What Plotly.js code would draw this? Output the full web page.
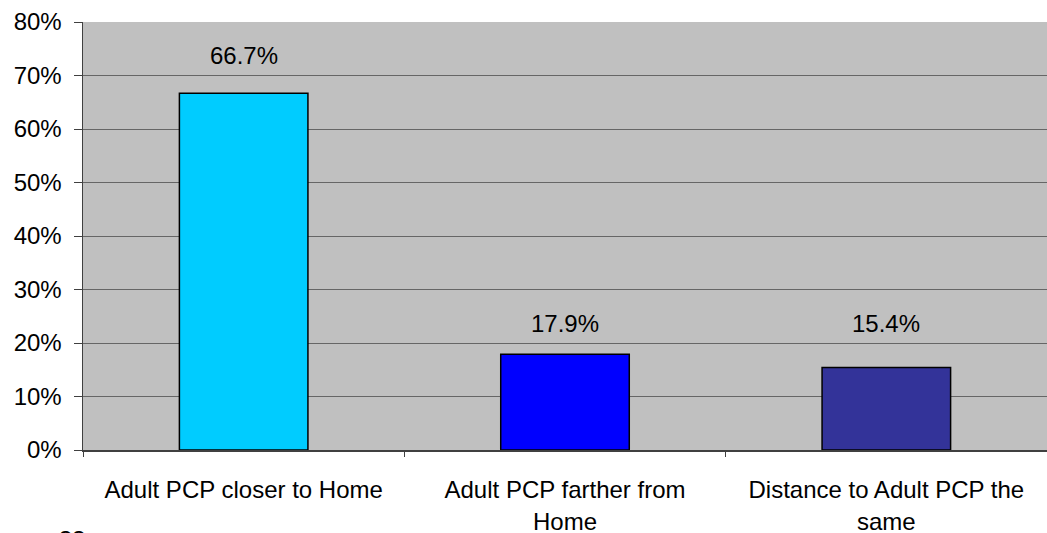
<!DOCTYPE html>
<html>
<head>
<meta charset="utf-8">
<script src="https://cdn.plot.ly/plotly-3.0.1.min.js"></script>
<style>html,body{margin:0;padding:0;background:#fff;}#chart{width:1047px;height:533px;}</style>
</head>
<body>
<div id="chart"></div>
<script>
const categories = ["Adult PCP closer to Home", "Adult PCP farther from<br>Home", "Distance to Adult PCP the<br>same"];
const values = [66.7, 17.9, 15.4];
const valueLabels = ["66.7%", "17.9%", "15.4%"];
const barColors = ["#00CCFF", "#0000FF", "#333399"];
const yTickVals = [0, 10, 20, 30, 40, 50, 60, 70, 80];
const yTickText = ["0%", "10%", "20%", "30%", "40%", "50%", "60%", "70%", "80%"];
const footerText = "33";

const labelShifts = [38, 31, 44];
const font = {family: "Liberation Sans, Arial, sans-serif", size: 24, color: "#000"};

const trace = {
  type: "bar",
  x: categories,
  y: values,
  width: 0.4,
  marker: {color: barColors, line: {color: "#000", width: 1.5}},
  hoverinfo: "none"
};

const annotations = values.map((v, i) => ({
  x: categories[i], y: v, xref: "x", yref: "y",
  text: valueLabels[i], showarrow: false,
  yanchor: "middle", yshift: labelShifts[i], font: font
}));
annotations.push({
  xref: "paper", yref: "paper", x: -0.0114, y: -0.173,
  xanchor: "center", yanchor: "top", text: footerText,
  showarrow: false, font: font
});

const layout = {
  width: 1047, height: 533,
  margin: {l: 83, r: 0, t: 22, b: 83, pad: 0},
  paper_bgcolor: "#ffffff",
  plot_bgcolor: "#C0C0C0",
  showlegend: false,
  bargap: 0.6,
  font: font,
  xaxis: {
    type: "category",
    tickson: "boundaries",
    ticks: "outside", ticklen: 5, tickcolor: "#404040", tickwidth: 1,
    showline: true, linecolor: "#404040", linewidth: 1.5,
    showgrid: false, zeroline: false,
    ticklabelstandoff: 18,
    tickfont: font,
    fixedrange: true
  },
  yaxis: {
    range: [0, 80],
    tickvals: yTickVals, ticktext: yTickText,
    ticks: "outside", ticklen: 8, tickcolor: "#404040", tickwidth: 1,
    showline: true, linecolor: "#404040", linewidth: 1.5,
    showgrid: true, gridcolor: "#666666", gridwidth: 1,
    zeroline: false,
    ticklabelstandoff: 7,
    tickfont: font,
    fixedrange: true
  },
  annotations: annotations
};

Plotly.newPlot("chart", [trace], layout, {displayModeBar: false, staticPlot: true});
</script>
</body>
</html>
